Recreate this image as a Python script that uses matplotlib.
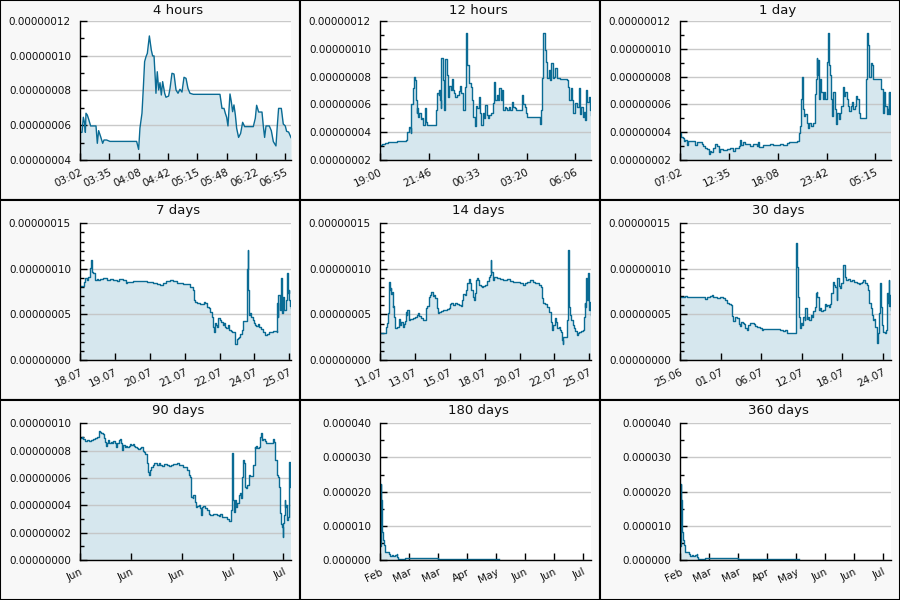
import numpy as np
import matplotlib
matplotlib.use("Agg")
import matplotlib.pyplot as plt
from matplotlib.patches import Rectangle
from matplotlib.ticker import MultipleLocator, FormatStrFormatter, FixedLocator, FixedFormatter

# ---------------- data (values in units of 1e-8 unless noted) ----------------
t_4h = [0, 2.3, 3.8, 5.3, 6.1, 6.8, 8.3, 9.9, 12.1, 18.2, 19.7, 21.2, 23.5, 25.8, 27.3, 30.3, 34.1, 64.4, 66.7, 68.2,
        70.5, 72.0, 73.5, 75.1, 76.6, 78.9, 81.1, 82.6, 84.2, 85.7, 86.4, 87.9, 89.5, 91.0, 92.5, 94.0, 96.3, 97.8, 100.8, 102.4,
        104.6, 106.9, 109.2, 111.5, 113.7, 116.0, 118.3, 120.6, 122.8, 125.1, 128.9, 159.2, 161.5, 163.8, 165.3, 166.8, 168.3, 170.6, 172.1, 173.6,
        175.1, 176.7, 178.2, 180.4, 182.7, 185.0, 187.3, 189.6, 197.1, 199.4, 200.9, 203.2, 207.0, 208.5, 210.0, 211.6, 215.3, 217.6, 219.9, 222.9,
        224.4, 225.9, 229.0, 231.2, 233.5, 235.0, 237.3, 240.0]
v_4h = [5.59, 5.59, 6.46, 6.11, 5.59, 6.69, 6.59, 6.34, 5.96, 5.96, 4.96, 5.69, 5.34, 4.96, 5.15, 5.15, 5.07, 5.07, 4.61, 5.84,
        6.69, 8.11, 9.66, 9.95, 10.14, 11.14, 10.33, 9.99, 9.99, 8.6, 7.84, 9.08, 8.03, 8.45, 7.74, 8.51, 7.84, 7.61, 7.68, 8.12,
        8.99, 8.95, 8.03, 7.84, 8.07, 7.91, 8.76, 8.70, 8.12, 7.84, 7.78, 7.78, 6.97, 6.97, 6.69, 6.46, 5.96, 7.80, 7.36, 6.78,
        7.17, 6.59, 5.82, 5.30, 5.53, 6.17, 5.92, 5.92, 5.92, 6.40, 7.15, 6.76, 6.76, 5.96, 5.30, 5.96, 5.96, 5.69, 5.06, 4.81,
        5.96, 6.97, 6.97, 6.07, 5.96, 5.65, 5.61, 5.29]
lbl_4h = ['03:02', '03:35', '04:08', '04:42', '05:15', '05:48', '06:22', '06:55']

t_12h = [0, 6.8, 17.1, 28.4, 56.9, 88.7, 93.3, 97.8, 102.4, 104.6, 106.9, 111.5, 113.7, 116.0, 120.6, 122.8, 125.1, 127.4, 129.7, 134.2,
         138.8, 143.3, 147.9, 152.4, 157.0, 161.5, 166.1, 187.7, 191.1, 193.4, 195.6, 200.2, 202.5, 204.7, 207.0, 209.3, 213.8, 216.1, 218.4, 220.7,
         222.9, 227.5, 232.0, 236.6, 241.1, 244.5, 248.0, 252.5, 257.1, 261.6, 266.2, 270.7, 273.0, 277.5, 282.1, 284.4, 288.9, 293.5, 295.7, 300.3,
         304.8, 309.4, 313.9, 318.5, 323.0, 327.6, 332.1, 336.7, 341.2, 345.8, 350.3, 354.9, 359.4, 364.0, 368.5, 373.1, 379.9, 384.4, 389.0, 393.5,
         398.1, 402.6, 407.2, 411.7, 416.3, 420.8, 425.4, 429.9, 434.5, 439.0, 443.6, 450.4, 455.0, 459.5, 464.1, 477.7, 484.5, 489.1, 493.6, 498.2,
         502.7, 511.8, 540.3, 545.9, 548.2, 552.8, 555.0, 557.3, 561.9, 566.4, 571.0, 575.5, 580.1, 584.6, 589.2, 593.7, 598.3, 602.8, 614.2, 637.0,
         641.5, 646.1, 650.6, 655.1, 659.7, 664.2, 671.1, 677.9, 682.4, 687.0, 691.5, 696.1, 700.6, 702.9, 707.5, 712.0, 716.6, 720.0]
v_12h = [3.08, 3.15, 3.25, 3.30, 3.37, 3.44, 4.04, 4.40, 4.28, 3.97, 6.03, 6.03, 7.16, 7.95, 7.76, 6.32, 5.36, 5.72, 5.12, 5.41,
         4.97, 5.00, 4.52, 5.72, 4.76, 4.52, 4.49, 4.49, 5.60, 5.84, 6.84, 6.68, 7.04, 6.32, 5.72, 9.31, 9.19, 7.76, 5.60, 8.83,
         9.24, 8.12, 6.56, 7.32, 7.04, 7.80, 7.04, 6.80, 6.56, 6.68, 6.68, 6.99, 7.32, 6.80, 6.68, 5.60, 7.28, 11.14, 8.83, 8.83,
         7.52, 7.28, 6.32, 5.12, 4.45, 5.89, 5.72, 6.51, 5.36, 4.52, 5.36, 5.00, 5.96, 5.24, 5.00, 5.24, 5.36, 6.08, 7.64, 6.32,
         6.68, 6.32, 7.16, 6.32, 7.04, 5.60, 5.84, 5.72, 5.60, 5.84, 5.60, 6.20, 5.84, 5.72, 5.60, 5.60, 6.68, 6.03, 5.84, 5.36,
         5.12, 5.12, 5.12, 4.59, 5.60, 7.88, 7.88, 11.14, 9.91, 9.07, 7.88, 8.47, 7.76, 8.95, 7.88, 8.00, 8.59, 7.88, 7.80, 7.76,
         7.28, 6.32, 7.16, 6.32, 5.36, 6.08, 5.84, 7.16, 5.31, 5.84, 5.12, 5.48, 4.88, 7.04, 6.20, 6.56, 5.60, 5.24]
lbl_12h = ['19:00', '21:46', '00:33', '03:20', '06:06']

t_1d = [0, 9.1, 18.2, 27.3, 36.4, 45.5, 54.6, 68.3, 91.0, 104.7, 113.8, 136.5, 150.2, 159.3, 172.9, 186.6, 195.7, 204.8, 213.9, 227.5,
        241.2, 250.3, 263.9, 273.0, 295.8, 318.5, 341.3, 359.5, 373.1, 386.8, 400.4, 409.5, 418.6, 432.3, 445.9, 464.1, 477.8, 500.5, 523.3, 532.4,
        541.5, 568.8, 591.5, 614.3, 637.0, 659.8, 682.5, 705.3, 728.0, 741.7, 773.5, 796.3, 809.9, 814.5, 819.0, 823.6, 828.1, 832.7, 837.2, 841.8,
        846.3, 855.4, 864.5, 873.6, 882.7, 891.8, 910.0, 919.1, 928.2, 932.8, 937.3, 941.9, 946.4, 955.5, 964.6, 973.7, 982.8, 991.9, 1001.0, 1005.6,
        1010.1, 1014.7, 1023.8, 1032.9, 1037.4, 1046.5, 1055.6, 1064.7, 1073.8, 1082.9, 1092.0, 1101.1, 1110.2, 1119.3, 1128.4, 1137.5, 1146.6, 1155.7, 1164.8, 1173.9,
        1183.0, 1192.1, 1201.2, 1210.3, 1219.4, 1228.5, 1251.3, 1264.9, 1269.5, 1274.0, 1283.1, 1292.2, 1301.3, 1310.4, 1319.5, 1328.6, 1365.0, 1374.1, 1383.2, 1392.3,
        1401.4, 1410.5, 1419.6, 1424.2, 1428.7, 1433.3, 1440.0]
v_1d = [3.95, 3.66, 3.59, 3.34, 3.41, 3.05, 3.34, 3.34, 3.39, 3.10, 3.27, 3.27, 3.17, 2.98, 2.85, 2.80, 2.44, 2.68, 2.61, 2.85,
        3.17, 2.98, 2.61, 2.78, 2.73, 2.78, 2.85, 2.68, 2.85, 2.85, 2.98, 3.41, 3.10, 3.27, 3.17, 3.17, 3.02, 3.17, 2.98, 3.27,
        2.93, 3.10, 3.10, 3.17, 3.10, 3.10, 3.17, 3.10, 3.22, 3.27, 3.27, 3.34, 3.46, 3.95, 4.44, 5.05, 6.39, 7.98, 7.12, 5.66,
        5.17, 5.29, 4.63, 4.32, 4.68, 4.44, 4.63, 6.76, 7.85, 9.37, 8.10, 9.20, 6.39, 7.85, 6.88, 6.39, 6.88, 6.39, 6.88, 9.07,
        11.15, 8.83, 8.10, 6.39, 5.17, 6.88, 5.66, 4.56, 5.41, 4.93, 5.41, 5.90, 7.24, 6.63, 6.88, 6.39, 5.90, 5.54, 5.90, 6.15,
        5.66, 5.90, 6.63, 6.39, 5.41, 5.05, 5.05, 5.05, 7.85, 11.15, 10.29, 7.98, 8.95, 8.83, 7.85, 7.85, 7.80, 7.12, 5.41, 6.88,
        5.90, 5.29, 5.66, 6.88, 5.29, 6.88, 5.29]
lbl_1d = ['07:02', '12:35', '18:08', '23:42', '05:15']

t_7d = [0.00, 0.06, 0.11, 0.15, 0.19, 0.23, 0.27, 0.29, 0.32, 0.34, 0.37, 0.40, 0.43, 0.48, 0.53, 0.57, 0.67, 0.76, 0.86, 0.96,
        1.05, 1.11, 1.17, 1.24, 1.32, 1.36, 1.53, 1.72, 1.91, 2.10, 2.20, 2.29, 2.39, 2.48, 2.58, 2.67, 2.77, 2.87, 2.96, 3.06,
        3.15, 3.20, 3.23, 3.27, 3.30, 3.36, 3.44, 3.50, 3.55, 3.59, 3.65, 3.71, 3.74, 3.78, 3.82, 3.84, 3.87, 3.90, 3.94, 3.97,
        4.01, 4.05, 4.09, 4.13, 4.16, 4.20, 4.24, 4.28, 4.32, 4.36, 4.39, 4.43, 4.45, 4.49, 4.53, 4.57, 4.60, 4.64, 4.68, 4.74,
        4.78, 4.79, 4.81, 4.83, 4.85, 4.87, 4.91, 4.95, 4.99, 5.03, 5.06, 5.10, 5.14, 5.19, 5.25, 5.31, 5.35, 5.41, 5.46, 5.54,
        5.60, 5.64, 5.65, 5.67, 5.69, 5.73, 5.77, 5.79, 5.83, 5.86, 5.90, 5.94, 5.96, 5.98, 6.00, 6.02, 6.05]
v_7d = [8.12, 8.12, 8.60, 8.96, 8.78, 9.07, 9.07, 10.06, 10.98, 9.69, 9.51, 9.58, 8.78, 8.85, 8.78, 8.93, 9.00, 8.78, 8.85, 8.78,
        8.71, 8.85, 8.85, 8.78, 8.49, 8.60, 8.63, 8.71, 8.60, 8.49, 8.34, 8.19, 8.49, 8.71, 8.78, 8.63, 8.49, 8.49, 8.34, 8.34,
        8.05, 7.97, 7.68, 6.58, 6.40, 6.22, 6.15, 6.15, 6.40, 6.22, 5.85, 5.67, 5.30, 4.76, 3.66, 3.11, 4.02, 3.84, 3.58, 4.57,
        4.39, 4.21, 3.84, 4.10, 3.66, 3.47, 3.84, 3.29, 3.22, 3.11, 3.11, 2.56, 1.75, 2.27, 2.38, 2.56, 2.85, 3.29, 4.24, 4.24,
        5.67, 9.95, 12.07, 7.68, 4.94, 5.12, 4.76, 4.39, 4.10, 3.84, 3.73, 3.95, 3.58, 3.36, 3.11, 2.74, 2.85, 3.11, 3.11, 3.22,
        3.22, 3.11, 6.22, 4.76, 7.13, 5.49, 8.96, 5.12, 6.95, 5.49, 6.58, 9.51, 7.32, 7.68, 6.58, 5.93, 5.67]
lbl_7d = ['18.07', '19.07', '20.07', '21.07', '22.07', '24.07', '25.07']

t_14d = [0.00, 0.22, 0.35, 0.40, 0.49, 0.53, 0.58, 0.62, 0.66, 0.71, 0.75, 0.80, 0.84, 0.88, 0.93, 0.97, 1.06, 1.15, 1.24, 1.28,
         1.33, 1.42, 1.50, 1.59, 1.68, 1.73, 1.77, 1.81, 1.90, 1.99, 2.21, 2.34, 2.43, 2.52, 2.61, 2.70, 2.88, 2.99, 3.05, 3.14,
         3.23, 3.32, 3.41, 3.49, 3.58, 3.67, 3.76, 3.85, 3.94, 4.07, 4.20, 4.42, 4.56, 4.64, 4.73, 4.82, 4.95, 5.09, 5.22, 5.35,
         5.44, 5.53, 5.62, 5.71, 5.79, 5.88, 5.93, 5.97, 6.06, 6.15, 6.24, 6.33, 6.37, 6.41, 6.50, 6.59, 6.68, 6.77, 6.86, 6.99,
         7.08, 7.12, 7.21, 7.30, 7.34, 7.39, 7.48, 7.56, 7.74, 7.96, 8.18, 8.40, 8.63, 8.85, 9.07, 9.29, 9.51, 9.64, 9.73, 9.95,
         10.17, 10.31, 10.44, 10.57, 10.66, 10.75, 10.84, 10.97, 11.10, 11.24, 11.32, 11.37, 11.41, 11.50, 11.59, 11.68, 11.77, 11.85, 11.94, 12.03,
         12.08, 12.12, 12.16, 12.30, 12.39, 12.43, 12.50, 12.54, 12.61, 12.70, 12.78, 12.87, 12.96, 13.05, 13.14, 13.23, 13.31, 13.45, 13.54, 13.58,
         13.62, 13.67, 13.71, 13.76, 13.80, 13.85, 13.89, 13.93, 14.00]
v_14d = [2.93, 2.93, 3.00, 3.66, 4.02, 5.12, 6.95, 8.60, 7.68, 7.86, 7.24, 7.50, 5.85, 5.93, 4.76, 3.47, 3.47, 3.66, 4.10, 4.46,
         3.84, 4.21, 3.66, 3.95, 4.32, 5.30, 4.94, 5.49, 4.39, 4.46, 4.57, 4.68, 4.94, 5.12, 4.83, 4.57, 4.39, 4.39, 5.67, 5.93,
         6.95, 7.13, 7.50, 7.02, 7.13, 6.77, 5.67, 5.19, 5.30, 5.41, 5.49, 5.56, 5.67, 6.15, 6.22, 6.07, 6.22, 6.15, 6.04, 5.93,
         6.58, 7.24, 7.13, 7.68, 8.41, 8.78, 8.93, 8.49, 7.68, 6.95, 6.58, 7.32, 8.78, 8.96, 8.78, 8.19, 8.12, 8.05, 8.12, 8.23,
         8.41, 8.71, 9.07, 9.33, 10.98, 9.69, 8.78, 9.07, 8.96, 8.93, 8.78, 8.85, 8.71, 8.60, 8.60, 8.49, 8.23, 8.41, 8.60, 8.78,
         8.60, 8.49, 8.41, 8.23, 8.05, 6.77, 6.22, 6.15, 5.85, 5.30, 4.94, 4.21, 3.29, 3.84, 4.57, 4.21, 3.47, 3.66, 3.29, 3.11,
         2.19, 1.75, 2.49, 2.56, 4.21, 4.39, 12.07, 5.85, 4.94, 4.39, 3.84, 3.47, 3.22, 2.74, 2.93, 3.11, 3.22, 3.29, 4.76, 6.22,
         5.85, 8.96, 6.95, 6.58, 9.51, 8.23, 5.49, 6.40, 4.94]
lbl_14d = ['11.07', '13.07', '15.07', '18.07', '20.07', '22.07', '25.07']

t_30d = [0.00, 0.28, 0.47, 0.76, 1.04, 1.42, 1.90, 2.37, 2.84, 3.32, 3.60, 3.79, 4.08, 4.27, 4.55, 4.74, 5.02, 5.31, 5.69, 6.16,
         6.45, 6.63, 6.92, 7.20, 7.39, 7.58, 7.77, 8.06, 8.34, 8.53, 8.72, 8.91, 9.10, 9.29, 9.48, 9.67, 9.95, 10.24, 10.52, 10.71,
         10.99, 11.18, 11.37, 11.66, 11.85, 12.32, 13.27, 14.22, 14.69, 14.98, 15.16, 15.64, 16.35, 16.44, 16.54, 16.63, 16.78, 16.92, 17.01, 17.16,
         17.35, 17.53, 17.72, 17.82, 18.01, 18.20, 18.39, 18.58, 18.77, 18.96, 19.15, 19.34, 19.43, 19.52, 19.71, 19.90, 20.09, 20.38, 20.57, 20.76,
         20.95, 21.14, 21.33, 21.52, 21.70, 21.89, 22.08, 22.27, 22.37, 22.56, 22.75, 22.94, 23.13, 23.22, 23.41, 23.60, 23.88, 24.17, 24.45, 24.74,
         25.12, 25.40, 25.59, 25.88, 26.06, 26.35, 26.54, 26.73, 26.92, 27.11, 27.30, 27.39, 27.58, 27.77, 27.96, 28.05, 28.15, 28.34, 28.43, 28.53,
         28.72, 28.91, 29.10, 29.28, 29.38, 29.48, 29.57, 29.67, 29.76, 29.86, 30.00]
v_30d = [6.88, 6.95, 6.88, 7.02, 6.88, 6.95, 6.88, 6.95, 6.88, 6.95, 6.73, 6.95, 6.88, 7.02, 7.10, 6.88, 6.95, 6.80, 6.88, 6.77,
         6.58, 6.22, 6.15, 6.04, 4.83, 4.32, 4.68, 4.57, 3.95, 3.73, 4.21, 4.10, 3.95, 3.47, 3.29, 3.84, 4.10, 4.02, 3.95, 3.73,
         3.66, 3.58, 3.47, 3.29, 3.36, 3.36, 3.36, 3.29, 3.22, 3.29, 3.00, 2.93, 2.93, 8.05, 12.80, 10.24, 6.95, 4.76, 3.47, 4.10,
         3.84, 4.76, 4.39, 5.67, 4.46, 4.76, 4.39, 4.94, 4.76, 5.41, 5.85, 7.39, 7.50, 6.95, 5.49, 5.67, 5.41, 5.49, 6.15, 5.93,
         6.04, 5.85, 6.15, 7.32, 8.60, 8.23, 8.05, 6.58, 8.96, 8.12, 7.86, 8.41, 8.78, 10.39, 9.15, 8.78, 8.85, 8.71, 8.78, 8.60,
         8.49, 8.34, 8.49, 8.60, 8.78, 8.49, 8.23, 7.68, 6.22, 5.67, 4.94, 4.39, 4.46, 3.66, 2.74, 1.90, 2.93, 5.12, 8.49, 5.85,
         3.84, 3.11, 2.93, 3.29, 5.85, 7.32, 6.22, 8.78, 5.93, 7.13, 5.49]
lbl_30d = ['25.06', '01.07', '06.07', '12.07', '18.07', '24.07']

t_90d = [0.0, 0.9, 1.4, 2.3, 3.1, 4.0, 4.8, 5.7, 6.5, 7.4, 8.0, 8.2, 8.5, 9.1, 9.7, 10.2, 10.8, 11.1, 11.4, 11.9,
         12.5, 13.1, 13.6, 14.2, 14.8, 15.4, 15.9, 16.5, 17.1, 17.3, 17.9, 18.5, 19.1, 19.6, 20.2, 20.8, 21.3, 21.9, 22.5, 23.0,
         23.6, 24.2, 24.7, 25.6, 26.2, 26.7, 27.3, 27.9, 28.4, 29.0, 29.6, 29.9, 30.4, 31.0, 31.6, 32.7, 33.6, 34.1, 35.0, 35.8,
         37.0, 37.8, 38.7, 39.8, 41.2, 42.1, 42.7, 43.8, 44.9, 45.8, 46.4, 46.9, 47.2, 47.5, 48.1, 48.3, 48.9, 49.5, 50.0, 50.6,
         51.2, 51.8, 52.0, 52.6, 53.2, 54.0, 54.9, 55.4, 56.9, 58.3, 59.2, 59.7, 60.6, 61.4, 62.0, 62.6, 63.4, 64.3, 64.6, 64.8,
         65.1, 65.4, 65.7, 66.0, 66.5, 67.1, 67.7, 68.2, 68.8, 69.1, 69.4, 69.9, 70.2, 70.8, 71.4, 71.9, 72.5, 73.1, 73.7, 74.0,
         74.5, 74.8, 75.1, 75.7, 76.2, 76.8, 77.3, 77.6, 78.2, 78.8, 79.3, 79.9, 81.0, 81.9, 82.2, 82.8, 83.3, 83.9, 84.2, 84.5,
         84.8, 85.1, 85.4, 85.7, 86.3, 86.6, 86.7, 87.0, 87.3, 87.6, 87.9, 88.2, 88.4, 88.7, 89.0, 89.3, 89.6, 90.0]
v_90d = [8.90, 8.98, 8.83, 8.73, 8.78, 8.73, 8.78, 8.83, 8.90, 9.02, 8.98, 9.46, 9.39, 9.27, 9.22, 8.90, 8.66, 8.34, 8.59, 8.78,
         8.54, 8.66, 8.54, 8.73, 8.54, 8.29, 8.59, 8.78, 8.83, 8.54, 8.05, 8.41, 8.29, 8.34, 8.24, 8.34, 8.49, 8.41, 8.49, 8.34,
         8.24, 8.17, 8.10, 8.17, 8.29, 8.00, 7.93, 7.76, 7.07, 6.46, 6.22, 6.59, 6.83, 6.95, 7.07, 6.95, 7.07, 6.95, 6.88, 7.02,
         6.95, 6.88, 6.95, 7.02, 7.07, 6.95, 6.95, 6.83, 6.83, 6.59, 6.22, 6.05, 5.37, 4.63, 4.51, 4.76, 4.27, 3.85, 3.95, 4.02,
         3.78, 3.29, 3.90, 3.95, 3.78, 3.66, 3.37, 3.29, 3.34, 3.29, 3.22, 3.37, 3.17, 3.12, 3.12, 2.98, 2.88, 2.98, 3.66, 7.80,
         5.00, 4.39, 3.54, 4.39, 3.90, 4.15, 4.76, 4.88, 4.51, 6.10, 7.32, 7.07, 5.37, 5.24, 5.49, 6.22, 6.15, 6.15, 6.46, 6.95,
         8.29, 8.17, 8.34, 8.17, 8.29, 8.98, 9.27, 8.78, 8.83, 8.73, 8.54, 8.59, 8.54, 8.54, 8.83, 8.66, 7.32, 6.59, 6.22, 6.10,
         5.37, 4.15, 3.41, 2.63, 2.44, 1.71, 2.68, 3.29, 4.39, 3.90, 4.02, 3.29, 2.93, 3.17, 4.39, 7.20, 5.37, 5.32]
lbl_90d = ['Jun', 'Jun', 'Jun', 'Jul', 'Jul']

# 180 / 360 days: values in units of 1e-6
t_180d = [0.0, 0.85, 1.14, 1.42, 1.71, 2.27, 2.56, 3.41, 3.98, 4.55, 6.26, 7.96, 8.53, 9.95, 11.37, 13.08, 14.22, 14.79, 15.36, 19.91,
          21.04, 48.9, 49.5, 101.8]
v_180d = [4.0, 22.2, 17.6, 8.8, 8.3, 8.3, 5.9, 4.4, 2.9, 2.4, 2.4, 1.9, 1.3, 1.4, 1.3, 1.4, 1.8, 1.0, 0.2, 0.2,
          0.5, 0.5, 0.2, 0.2]
lbl_180d = ['Feb', 'Mar', 'Mar', 'Apr', 'May', 'Jun', 'Jun', 'Jul']

# ---------------- styling ----------------
LINE = '#0a6b94'
FILL = '#d6e7ee'
GRID = '#c4c4c4'
PANEL_BG = '#f8f8f8'

W, H = 900, 600
fig = plt.figure(figsize=(9, 6), dpi=100)
fig.patch.set_facecolor('white')

panels = [
    dict(title='4 hours', t=t_4h, v=v_4h, unit=1e-8, ylim=(4e-8, 1.2e-7), major=2e-8, minor=1e-8, fmt='%.8f',
         xmax=240, xstep=200 / 6, labels=lbl_4h, steps=False),
    dict(title='12 hours', t=t_12h, v=v_12h, unit=1e-8, ylim=(2e-8, 1.2e-7), major=2e-8, minor=1e-8, fmt='%.8f',
         xmax=720, xstep=1000 / 6, labels=lbl_12h, steps=True),
    dict(title='1 day', t=t_1d, v=v_1d, unit=1e-8, ylim=(2e-8, 1.2e-7), major=2e-8, minor=1e-8, fmt='%.8f',
         xmax=1440, xstep=1000 / 3, labels=lbl_1d, steps=True),
    dict(title='7 days', t=t_7d, v=v_7d, unit=1e-8, ylim=(0, 1.5e-7), major=5e-8, minor=1e-8, fmt='%.8f',
         xmax=6.05, xstep=1.0, labels=lbl_7d, steps=True),
    dict(title='14 days', t=t_14d, v=v_14d, unit=1e-8, ylim=(0, 1.5e-7), major=5e-8, minor=1e-8, fmt='%.8f',
         xmax=14, xstep=14 / 6.05, labels=lbl_14d, steps=True),
    dict(title='30 days', t=t_30d, v=v_30d, unit=1e-8, ylim=(0, 1.5e-7), major=5e-8, minor=1e-8, fmt='%.8f',
         xmax=30, xstep=30 * 121.7 / 633, labels=lbl_30d, steps=True),
    dict(title='90 days', t=t_90d, v=v_90d, unit=1e-8, ylim=(0, 1.0e-7), major=2e-8, minor=1e-8, fmt='%.8f',
         xmax=90, xstep=90 * 152.5 / 633, labels=lbl_90d, steps=True),
    dict(title='180 days', t=t_180d, v=v_180d, unit=1e-6, ylim=(0, 4e-5), major=1e-5, minor=5e-6, fmt='%.6f',
         xmax=180, xstep=180 * 87 / 633, labels=lbl_180d, steps=True),
    dict(title='360 days', t=t_180d, v=v_180d, unit=1e-6, ylim=(0, 4e-5), major=1e-5, minor=5e-6, fmt='%.6f',
         xmax=180, xstep=180 * 87 / 633, labels=lbl_180d, steps=True),
]

for i, p in enumerate(panels):
    col, row = i % 3, i // 3
    x0, y0 = 300 * col, 200 * row
    # panel background + border
    fig.patches.append(Rectangle((x0 / W, 1 - (y0 + 200) / H), 300 / W, 200 / H,
                                 transform=fig.transFigure, facecolor=PANEL_BG,
                                 edgecolor='black', linewidth=1.5, zorder=-10))
    top = 21 if row == 0 else 23.3
    left, right, bottom = 80, 291, 160
    ax = fig.add_axes([(x0 + left) / W, 1 - (y0 + bottom) / H,
                       (right - left) / W, (bottom - top) / H])
    ax.set_zorder(5)
    ax.set_facecolor('white')
    t = np.array(p['t'], dtype=float)
    v = np.array(p['v'], dtype=float) * p['unit']
    base = p['ylim'][0]
    if p['steps']:
        ax.fill_between(t, v, base, step='post', color=FILL, linewidth=0, zorder=1)
        ax.plot(t, v, drawstyle='steps-post', color=LINE, linewidth=1.0, zorder=3)
    else:
        ax.fill_between(t, v, base, color=FILL, linewidth=0, zorder=1)
        ax.plot(t, v, color=LINE, linewidth=1.0, zorder=3)
    ax.set_xlim(0, p['xmax'])
    ax.set_ylim(*p['ylim'])

    ax.yaxis.set_major_locator(MultipleLocator(p['major']))
    ax.yaxis.set_minor_locator(MultipleLocator(p['minor']))
    ax.yaxis.set_major_formatter(FormatStrFormatter(p['fmt']))
    ax.set_axisbelow('line')
    ax.yaxis.grid(True, which='major', color=GRID, linewidth=1.0, alpha=0.9)
    ax.xaxis.grid(False)

    ticks = [k * p['xstep'] for k in range(len(p['labels']))]
    ax.xaxis.set_major_locator(FixedLocator(ticks))
    ax.xaxis.set_major_formatter(FixedFormatter(p['labels']))

    for s in ('top', 'right'):
        ax.spines[s].set_visible(False)
    for s in ('left', 'bottom'):
        ax.spines[s].set_color('black')
        ax.spines[s].set_linewidth(1.0)
        ax.spines[s].set_zorder(4)

    ax.tick_params(axis='y', which='major', direction='in', length=5, width=1,
                   labelsize=7.5, pad=6.5, colors='black', labelcolor='#111111')
    ax.tick_params(axis='y', which='minor', direction='in', length=3, width=1, colors='black')
    ax.tick_params(axis='x', which='major', direction='in', length=5, width=1,
                   labelsize=7.5, pad=5, colors='black', labelcolor='#111111')
    for lab in ax.get_xticklabels():
        lab.set_rotation(25)
        lab.set_ha('right')
        lab.set_va('top')
        lab.set_rotation_mode('anchor')

    fig.text((x0 + 178) / W, 1 - (y0 + 10.5) / H, p['title'], ha='center', va='center',
             fontsize=9.5, color='#111111', zorder=6)

fig.savefig('out.png', dpi=100, facecolor=fig.get_facecolor())
